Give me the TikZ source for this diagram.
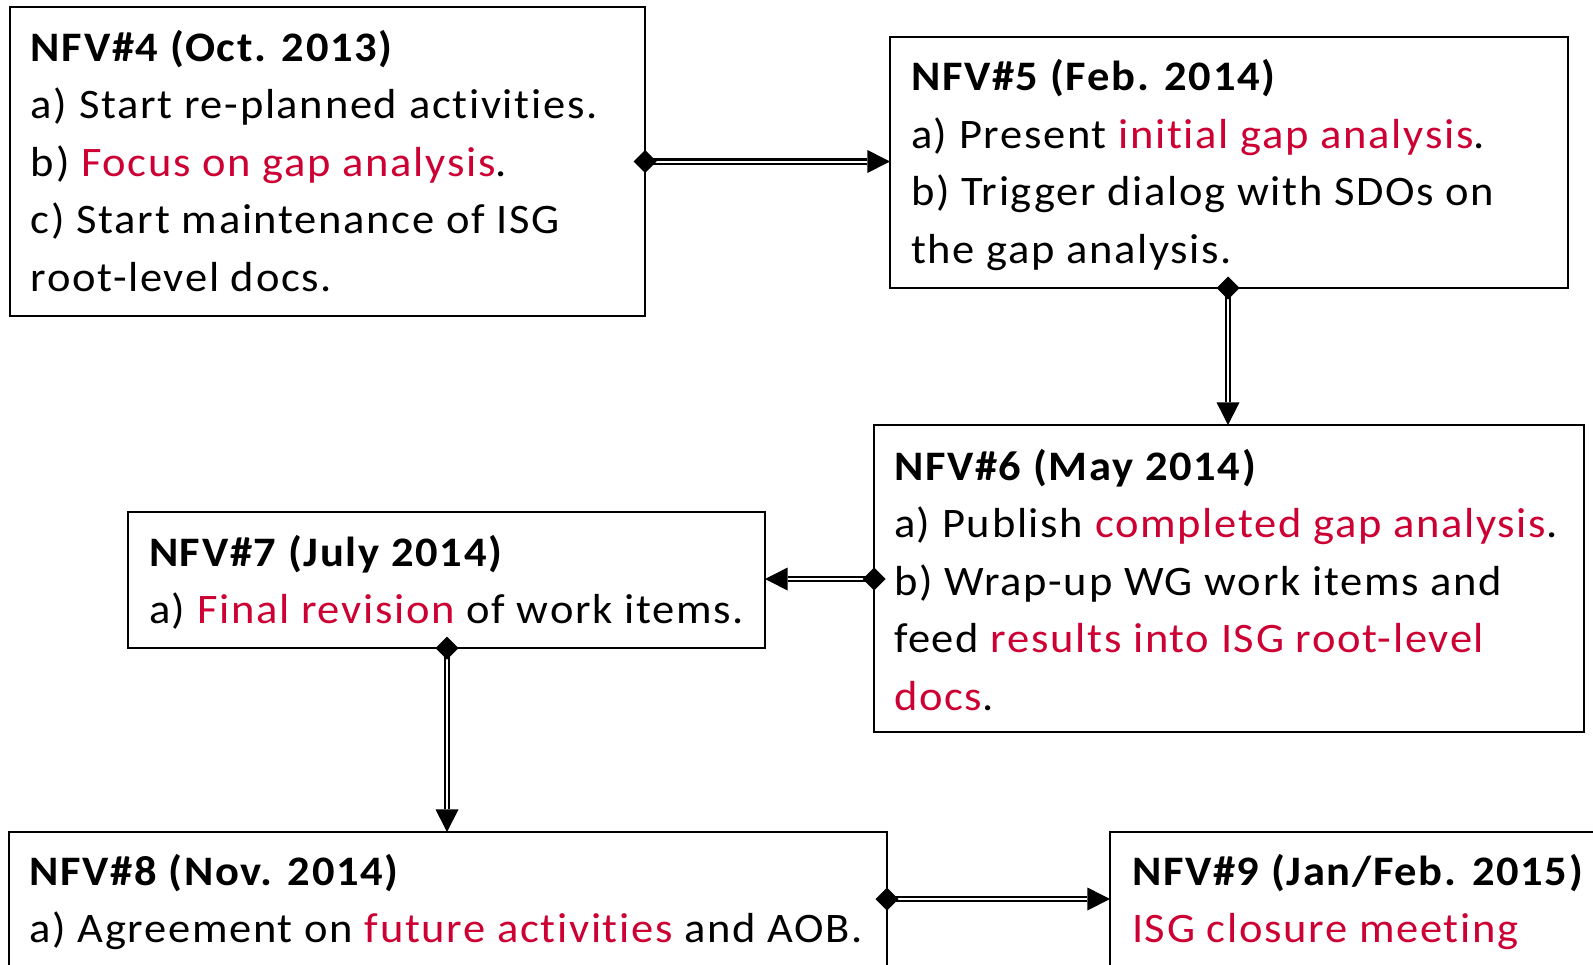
\documentclass[tikz,border=0pt]{standalone}
\usepackage{fontspec}
\setmainfont{Carlito}[FakeStretch=1.06, LetterSpace=4, Ligatures={NoCommon}]
\usetikzlibrary{arrows.meta}
\definecolor{hl}{RGB}{204,0,51}

\begin{document}
\begin{tikzpicture}[x=0.5pt,y=-0.5pt,
  box/.style={draw=black, line width=1pt, rectangle, inner sep=0pt, outer sep=0pt, anchor=north west},
  txt/.style={anchor=north west, inner sep=0pt, outer sep=0pt, align=left,
              font=\fontsize{21}{28.75}\selectfont},
  flow/.style={line width=1.2pt, double=white, double distance=1pt,
               {Diamond[length=11.5pt,width=11.5pt,line width=0pt]}-{Triangle[length=11.3pt,width=11.5pt,line width=0pt]},
               shorten <=-5.75pt}]
  \useasboundingbox (0,0) rectangle (1593,964);

  % meeting boxes
  \node[box, minimum width=317.5pt, minimum height=154.5pt] (b4) at (10,7) {};
  \node[box, minimum width=339pt,   minimum height=125.5pt] (b5) at (890,37) {};
  \node[box, minimum width=355pt,   minimum height=153.5pt] (b6) at (874,425) {};
  \node[box, minimum width=318.5pt, minimum height=68pt]    (b7) at (128,512) {};
  \node[box, minimum width=439pt,   minimum height=74pt]    (b8) at (9,832) {};
  \node[box, minimum width=250pt,   minimum height=74pt]    (b9) at (1110,832) {};

  % meeting texts
  \node[txt] (t4) at (31,20.75) {\strut\textbf{NFV\#4 (Oct. 2013)}\\
    a) Start re-planned activities.\\
    b) \textcolor{hl}{Focus on gap analysis}.\\
    c) Start maintenance of ISG\\
    root-level docs.};
  \node[txt] (t5) at (911,50.25) {\strut\textbf{NFV\#5 (Feb. 2014)}\\
    a) Present \textcolor{hl}{initial gap analysis}.\\
    b) Trigger dialog with SDOs on\\
    the gap analysis.};
  \node[txt] (t6) at (894,439.75) {\strut\textbf{NFV\#6 (May 2014)}\\
    a) Publish \textcolor{hl}{completed gap analysis}.\\
    b) Wrap-up WG work items and\\
    feed \textcolor{hl}{results into ISG root-level}\\
    \textcolor{hl}{docs}.};
  \node[txt] (t7) at (149,525.75) {\strut\textbf{NFV\#7 (July 2014)}\\
    a) \textcolor{hl}{Final revision} of work items.};
  \node[txt] (t8) at (29.5,844.75) {\strut\textbf{NFV\#8 (Nov. 2014)}\\
    a) Agreement on \textcolor{hl}{future activities} and AOB.};
  \node[txt] (t9) at (1132,844.75) {\strut\textbf{NFV\#9 (Jan/Feb. 2015)}\\
    \textcolor{hl}{ISG closure meeting}};

  % connector rows and columns
  \coordinate (r45) at (0,161.5);
  \coordinate (c56) at (1228,0);
  \coordinate (r67) at (0,579);
  \coordinate (c78) at (447,0);
  \coordinate (r89) at (0,899);

  % connectors
  \draw[flow] (b4.east |- r45) -- (b5.west |- r45);
  \draw[flow] (c56 |- b5.south) -- (c56 |- b6.north);
  \draw[flow] (b6.west |- r67) -- (b7.east |- r67);
  \draw[flow] (c78 |- b7.south) -- (c78 |- b8.north);
  \draw[flow] (b8.east |- r89) -- (b9.west |- r89);
\end{tikzpicture}
\end{document}
